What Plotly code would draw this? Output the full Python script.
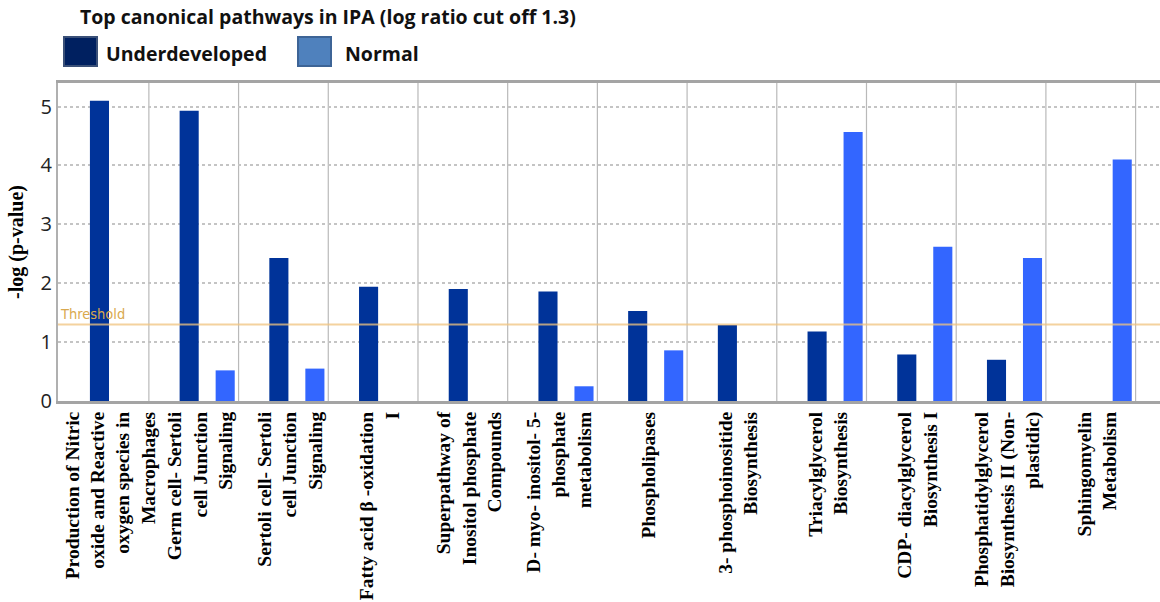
import plotly.graph_objects as go

# Canonical pathways (x-axis categories, multi-line labels)
pathways = [
    "Production of Nitric<br>oxide and Reactive<br>oxygen species in<br>Macrophages",
    "Germ cell- Sertoli<br>cell Junction<br>Signaling",
    "Sertoli cell- Sertoli<br>cell Junction<br>Signaling",
    "Fatty acid β -oxidation<br>I",
    "Superpathway of<br>Inositol phosphate<br>Compounds",
    "D- myo- inositol- 5-<br>phosphate<br>metabolism",
    "Phospholipases",
    "3- phosphoinositide<br>Biosynthesis",
    "Triacylglycerol<br>Biosynthesis",
    "CDP- diacylglycerol<br>Biosynthesis I",
    "Phosphatidylglycerol<br>Biosynthesis II (Non-<br>plastidic)",
    "Sphingomyelin<br>Metabolism",
]

# -log(p-value) per pathway; None = not significant in that group
underdeveloped = [5.10, 4.93, 2.43, 1.94, 1.90, 1.86, 1.53, 1.29, 1.18, 0.79, 0.70, None]
normal = [None, 0.52, 0.55, None, None, 0.25, 0.86, None, 4.57, 2.62, 2.43, 4.10]

y_ticks = [0, 1, 2, 3, 4, 5]
THRESHOLD = 1.3

DARK_BAR = "#003399"
LIGHT_BAR = "#3366ff"

W, H = 1160, 602
ML, MR, MT, MB = 58, 0, 83, 201
PW, PH = W - ML - MR, H - MT - MB

def px_x(px):
    return (px - ML) / PW

def px_y(py):
    return (H - MB - py) / PH

x_pos = list(range(len(pathways)))

fig = go.Figure()
fig.add_trace(go.Bar(x=x_pos, y=underdeveloped, name="Underdeveloped",
                     marker=dict(color=DARK_BAR, line=dict(width=0))))
fig.add_trace(go.Bar(x=x_pos, y=normal, name="Normal",
                     marker=dict(color=LIGHT_BAR, line=dict(width=0))))

# vertical separators between pathway columns
for i in range(len(pathways)):
    fig.add_vline(x=i + 0.35, line=dict(color="#b9b9b9", width=1.2), layer="below")

# significance threshold
fig.add_hline(y=THRESHOLD, line=dict(color="#f1c47e", width=2), opacity=0.75, layer="above")
fig.add_annotation(x=0, xref="paper", y=THRESHOLD, yref="y", yshift=0,
                   text="Threshold", showarrow=False, xanchor="left", yanchor="bottom",
                   font=dict(family="Liberation Sans Narrow, DejaVu Sans Condensed, Arial Narrow, sans-serif",
                             size=14.5, color="#d9a94f"))

# legend drawn as swatches + labels above the plot
legend_items = [("Underdeveloped", "#002060", "#3a5078", 64, 104),
                ("Normal", "#4f81bd", "#3d6496", 298, 343)]
for name, fill, edge, sx, tx in legend_items:
    fig.add_shape(type="rect", xref="paper", yref="paper",
                  x0=px_x(sx), x1=px_x(sx + 33), y0=px_y(66), y1=px_y(37),
                  fillcolor=fill, line=dict(color=edge, width=2))
    fig.add_annotation(x=px_x(tx), y=px_y(53), xref="paper", yref="paper",
                       text=name, showarrow=False, xanchor="left", yanchor="middle",
                       font=dict(family="Open Sans, sans-serif", size=19.5,
                                 color="#111111", weight="bold"))

fig.update_layout(
    width=W, height=H,
    margin=dict(l=ML, r=MR, t=MT, b=MB, autoexpand=False),
    paper_bgcolor="white", plot_bgcolor="white",
    barmode="group", bargap=0.197, bargroupgap=0.47,
    showlegend=False,
    title=dict(text="Top canonical pathways in IPA (log ratio cut off 1.3)",
               x=80 / W, xanchor="left", xref="container",
               y=1 - 17 / H, yanchor="middle", yref="container",
               font=dict(family="Open Sans, sans-serif", size=19.5,
                         color="#111111", weight="bold")),
    xaxis=dict(range=[-0.663, 11.622], tickmode="array", tickvals=x_pos,
               ticktext=pathways, tickangle=-90, ticks="", showgrid=False,
               ticklabelshift=-7,
               zeroline=False, showline=True, linecolor="#a4a4a4", linewidth=3,
               mirror=True, automargin=False,
               tickfont=dict(family="Liberation Serif, Times New Roman, serif",
                             size=19.5, color="black", weight="bold")),
    yaxis=dict(range=[0, 5.4], tickvals=y_ticks, showgrid=True,
               gridcolor="#c4c4c4", gridwidth=1.5, griddash="dot",
               zeroline=False, showline=True, linecolor="#b0b0b0", linewidth=2,
               ticks="", automargin=False,
               tickfont=dict(family="Open Sans, sans-serif", size=20, color="#222222"),
               title=dict(text="-log (p-value)", standoff=12,
                          font=dict(family="Liberation Serif, Times New Roman, serif",
                                    size=20, color="black", weight="bold"))),
)

fig.write_html("out.html")
